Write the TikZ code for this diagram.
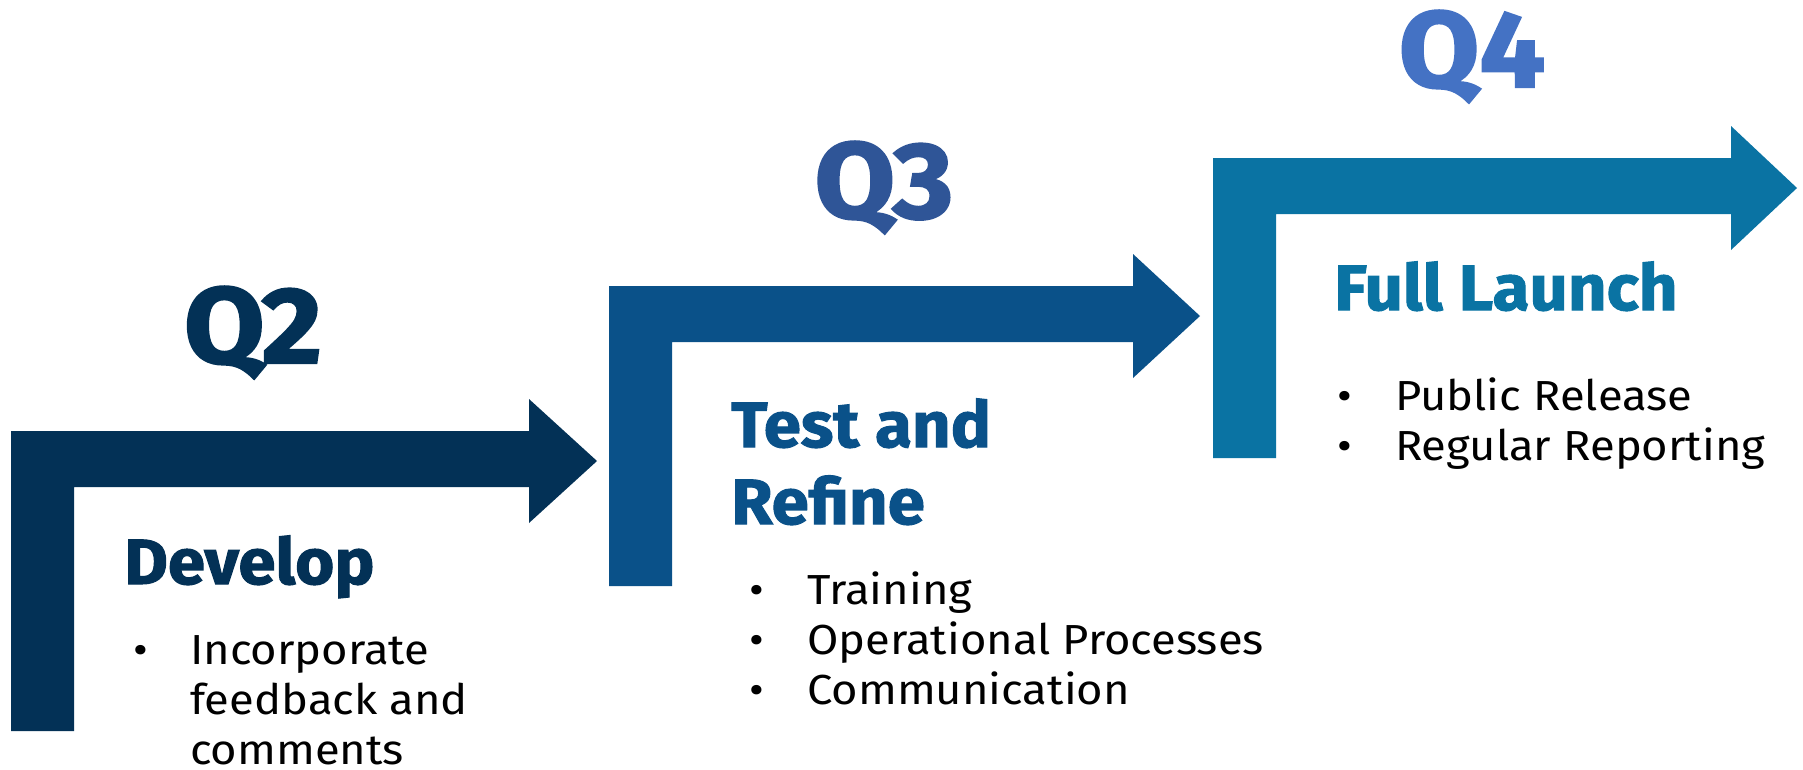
\documentclass[tikz,border=0pt]{standalone}
\usepackage{fontspec}
\setmainfont[FakeStretch=1.08]{Fira Sans}
\newfontfamily\heavyfont[FakeBold=1.6,FakeStretch=1.05]{Fira Sans}
\newfontfamily\quarterfont[FakeBold=2,FakeStretch=1.08]{Fira Sans}
\usetikzlibrary{positioning}
\definecolor{navyQ2}{HTML}{033156}
\definecolor{blueQ3}{HTML}{0A5189}
\definecolor{tealQ4}{HTML}{0A73A3}
\definecolor{labelQ3}{HTML}{2F5597}
\definecolor{labelQ4}{HTML}{4472C4}

\begin{document}
\begin{tikzpicture}[x=1pt,y=-1pt]
	\tikzstyle{quarter}=[font=\quarterfont\bfseries\fontsize{108}{108}\selectfont,anchor=base,inner sep=0]
	\tikzstyle{phase}=[font=\heavyfont\bfseries\fontsize{64}{77}\selectfont,anchor=base west,inner sep=0]
	\tikzstyle{items}=[font=\fontsize{42}{50}\selectfont,anchor=base west,inner sep=0,text=black]
	\useasboundingbox (0,0) rectangle (1803,769);
	% Q2
	\fill[navyQ2] (11,731) -- (11,431) -- (529,431) -- (529,399) -- (597,461) -- (529,523) -- (529,487) -- (74,487) -- (74,731) -- cycle;
	\node[quarter,text=navyQ2](q2) at (253,363) {Q2};
	\node[phase,text=navyQ2](develop) at (124,584) {Develop};
	\node[items](develop items) at (133,664) {\begin{tabular}[t]{@{}p{57pt}@{}l@{}}\textbullet & Incorporate\\ & feedback and\\ & comments\end{tabular}};
	% Q3
	\fill[blueQ3] (609,586) -- (609,286) -- (1133,286) -- (1133,254) -- (1200,316) -- (1133,378) -- (1133,342) -- (672,342) -- (672,586) -- cycle;
	\node[quarter,text=labelQ3](q3) at (884,218) {Q3};
	\node[phase,text=blueQ3](test) at (731,447) {\begin{tabular}[t]{@{}l@{}}Test and\\Refine\end{tabular}};
	\node[items](test items) at (749,604) {\begin{tabular}[t]{@{}p{58pt}@{}l@{}}\textbullet & Training\\ \textbullet & Operational Processes\\ \textbullet & Communication\end{tabular}};
	% Q4
	\fill[tealQ4] (1213,458) -- (1213,158) -- (1731,158) -- (1731,126) -- (1797,188) -- (1731,250) -- (1731,214) -- (1276,214) -- (1276,458) -- cycle;
	\node[quarter,text=labelQ4](q4) at (1472,87) {Q4};
	\node[phase,text=tealQ4](launch) at (1334,310) {Full Launch};
	\node[items](launch items) at (1337,410) {\begin{tabular}[t]{@{}p{58pt}@{}l@{}}\textbullet & Public Release\\ \textbullet & Regular Reporting\end{tabular}};
\end{tikzpicture}
\end{document}
